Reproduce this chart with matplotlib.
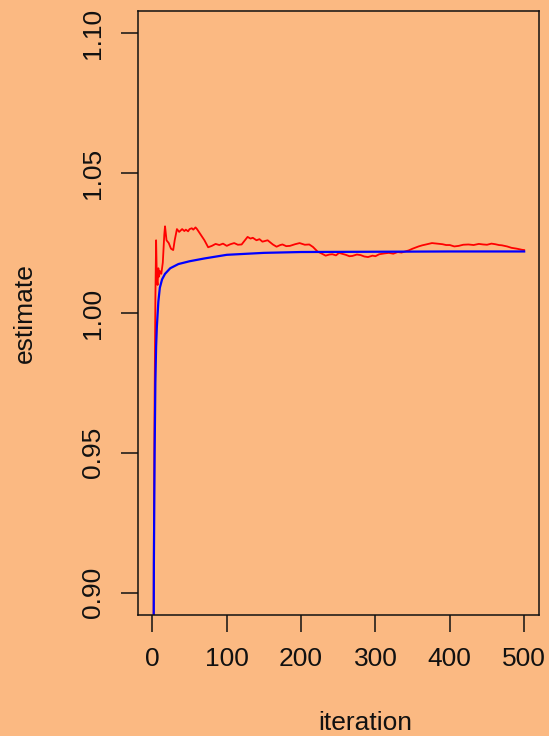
import matplotlib
matplotlib.use("Agg")
import matplotlib.pyplot as plt

# running estimates
iter_red = [1, 2, 3, 4, 5, 6, 7, 8, 9, 10, 12, 14, 16, 17, 19, 22, 25, 28, 30, 33, 36, 40, 43,
            45, 48, 50, 53, 55, 58, 60, 65, 70, 75, 80, 85, 90, 95, 100, 105, 110, 115, 120,
            128, 132, 135, 140, 144, 148, 155, 162, 167, 172, 175, 180, 185, 192, 198, 205,
            211, 216, 222, 228, 233, 238, 242, 247, 251, 256, 260, 265, 269, 275, 280, 285,
            290, 296, 300, 305, 312, 318, 324, 330, 335, 340, 345, 350, 358, 363, 368, 376,
            383, 390, 395, 400, 406, 412, 418, 425, 432, 439, 445, 450, 456, 461, 466, 470,
            477, 483, 490, 497, 500]
est_red = [0.82, 0.92, 0.97, 1.005, 1.026, 1.012, 1.010, 1.016, 1.013, 1.015, 1.014, 1.018,
           1.028, 1.031, 1.026, 1.025, 1.023, 1.0225, 1.026, 1.030, 1.029, 1.030, 1.0293,
           1.0298, 1.0292, 1.030, 1.0303, 1.0298, 1.0306, 1.030, 1.028, 1.026, 1.0235, 1.024,
           1.0247, 1.0243, 1.0248, 1.024, 1.0246, 1.025, 1.0244, 1.0245, 1.0272, 1.0266,
           1.0269, 1.026, 1.0264, 1.0255, 1.026, 1.0245, 1.0237, 1.0243, 1.0245, 1.0239,
           1.024, 1.0246, 1.025, 1.0244, 1.0245, 1.0236, 1.022, 1.0212, 1.0205, 1.0209,
           1.021, 1.0206, 1.0215, 1.0211, 1.0208, 1.0203, 1.0204, 1.0209, 1.0207, 1.0202,
           1.020, 1.0205, 1.0203, 1.021, 1.0213, 1.0215, 1.0212, 1.0218, 1.0216, 1.022,
           1.0224, 1.023, 1.0238, 1.0242, 1.0245, 1.025, 1.0248, 1.0246, 1.0243, 1.0243,
           1.0238, 1.024, 1.0244, 1.0245, 1.0243, 1.0247, 1.0245, 1.0244, 1.0248, 1.0246,
           1.0243, 1.0242, 1.0238, 1.0233, 1.023, 1.0226, 1.0225]

iter_blue = [1, 2, 3, 4, 5, 6, 8, 10, 13, 17, 24, 35, 50, 70, 100, 150, 200, 300, 400, 500]
est_blue = [0.82, 0.91, 0.95, 0.975, 0.988, 0.995, 1.004, 1.009, 1.012, 1.014, 1.016, 1.0175,
            1.0185, 1.0195, 1.0208, 1.0215, 1.0218, 1.0219, 1.022, 1.022]

x_ticks = [0, 100, 200, 300, 400, 500]
y_ticks = [0.90, 0.95, 1.00, 1.05, 1.10]
y_tick_labels = ["0.90", "0.95", "1.00", "1.05", "1.10"]

bg = "#fbb982"
plt.rcParams['font.family'] = ['Liberation Sans', 'DejaVu Sans']

fig = plt.figure(figsize=(5.49, 7.36), dpi=100, facecolor=bg)
ax = fig.add_axes([0.2519, 0.1644, 0.9818 - 0.2519, 0.9851 - 0.1644])
ax.set_facecolor(bg)

ax.plot(iter_red, est_red, color="red", lw=1.3)
ax.plot(iter_blue, est_blue, color="blue", lw=1.6)

ax.set_xlim(-18.96, 519.96)
ax.set_ylim(0.892, 1.108)

ax.set_xticks(x_ticks)
ax.set_yticks(y_ticks)
ax.set_yticklabels(y_tick_labels, rotation=90, va="center")
ax.tick_params(axis="both", length=12, width=1.1, labelsize=19, color="#111111",
               labelcolor="#111111")
ax.tick_params(axis="x", pad=11)
ax.tick_params(axis="y", pad=12)
for s in ax.spines.values():
    s.set_linewidth(1.1)
    s.set_color("#111111")

fig.text(0.6657, 1 - 723 / 736, "iteration", ha="center", va="center", fontsize=19,
         color="#111111")
fig.text(25 / 549, 1 - 313 / 736, "estimate", ha="center", va="center", fontsize=19,
         rotation=90, color="#111111")

fig.savefig("out.png", dpi=100, facecolor=bg)
